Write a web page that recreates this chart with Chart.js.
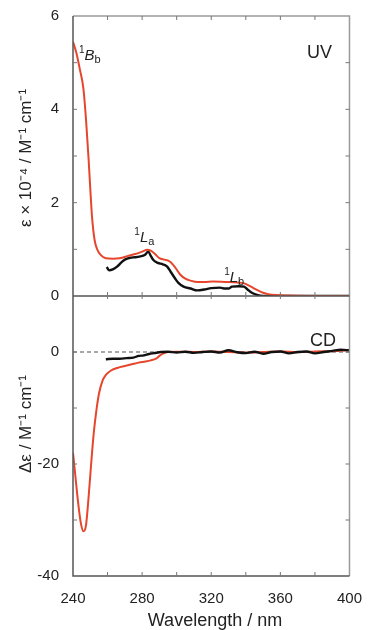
<!DOCTYPE html>
<html>
<head>
<meta charset="utf-8">
<script src="https://cdn.jsdelivr.net/npm/chart.js@4.4.1/dist/chart.umd.min.js"></script>
<style>
    html, body { margin: 0; padding: 0; background: #ffffff; }
    #contenedor { position: relative; width: 368px; height: 630px; }
</style>
</head>
<body>
<div id="contenedor"><canvas id="graficoEspectros" width="368" height="630"></canvas></div>
<script>
// Espectro UV (curva roja) - longitud de onda (nm) / valor (x 10^4)
const uvRojoNm = [240, 242, 244, 246, 247.5, 249, 250, 251, 252.5, 254, 256, 259, 263, 267, 272, 276, 280, 283, 285, 287.5, 290, 293, 296, 299, 302, 305, 308, 312, 316, 321, 328, 335, 339, 341, 344, 347, 350, 353, 358, 365, 380, 400];
const uvRojo = [5.45, 5.2, 4.85, 4.45, 3.8, 2.95, 2.3, 1.7, 1.2, 1.0, 0.88, 0.81, 0.8, 0.81, 0.86, 0.9, 0.95, 0.99, 0.97, 0.9, 0.81, 0.78, 0.74, 0.62, 0.46, 0.37, 0.33, 0.3, 0.3, 0.31, 0.3, 0.29, 0.27, 0.24, 0.18, 0.12, 0.07, 0.04, 0.02, 0.01, 0.0, 0.0];

// Espectro UV (curva negra)
const uvNegroNm = [259.5, 261, 263, 265.5, 268, 270, 273, 276, 279, 281.5, 283.6, 285, 286.5, 289, 292, 294.5, 296.5, 299, 301, 304, 308, 312, 316, 320, 325, 328, 330, 332, 336, 339, 341, 343, 346, 350, 360, 380, 400];
const uvNegro = [0.62, 0.55, 0.57, 0.63, 0.72, 0.78, 0.82, 0.83, 0.85, 0.88, 0.95, 0.86, 0.77, 0.71, 0.68, 0.63, 0.52, 0.38, 0.28, 0.2, 0.16, 0.12, 0.14, 0.17, 0.18, 0.16, 0.16, 0.2, 0.21, 0.2, 0.14, 0.08, 0.03, 0.0, 0.0, 0.0, 0.0];

// Espectro CD (curva roja)
const cdRojoNm = [240, 241, 243, 244.5, 246, 247.5, 249, 250.5, 252, 253.5, 255, 257, 259, 262, 266, 270, 274, 278, 282, 285, 288, 290, 292, 295, 300, 310, 320, 330, 340, 350, 360, 370, 380, 390, 400];
const cdRojo = [-18, -21, -27, -30.5, -32, -31, -26, -20, -14.5, -10.5, -7.5, -5.2, -4.1, -3.3, -2.8, -2.5, -2.2, -1.9, -1.7, -1.5, -1.2, -0.7, -0.3, 0, 0.05, 0, 0.1, 0, -0.1, 0, 0.1, -0.05, 0.1, 0.15, 0.3];

// Espectro CD (curva negra)
const cdNegroNm = [259, 263, 267, 271, 275, 278, 281, 284, 287, 291, 295, 300, 305, 310, 315, 320, 325, 330, 335, 340, 345, 350, 355, 360, 365, 370, 375, 380, 385, 390, 395, 400];
const cdNegro = [-1.3, -1.2, -1.2, -1.1, -1.0, -0.7, -0.6, -0.35, -0.2, 0, 0.05, -0.1, 0.05, -0.15, 0, 0.1, -0.1, 0.3, -0.05, -0.2, 0.05, -0.3, 0, 0.1, -0.25, 0, 0.1, -0.25, 0, 0.2, 0.4, 0.3];

const ROJO = '#e6462c';
const NEGRO = '#111111';
const TEXTO = '#222222';
const FUENTE = '"Liberation Sans", Arial, sans-serif';

const puntos = (xs, ys) => xs.map((x, i) => ({ x: x, y: ys[i] }));

function etiquetaBanda(ctx, x, y, principal, sub) {
    ctx.font = '10px ' + FUENTE;
    ctx.fillText('1', x, y - 7);
    const w1 = ctx.measureText('1').width;
    ctx.font = 'italic 15px ' + FUENTE;
    ctx.fillText(principal, x + w1, y);
    const w2 = ctx.measureText(principal).width;
    ctx.font = '11px ' + FUENTE;
    ctx.fillText(sub, x + w1 + w2, y + 3);
}

function tituloVertical(ctx, texto, x, y) {
    ctx.save();
    ctx.translate(x, y);
    ctx.rotate(-Math.PI / 2);
    ctx.textAlign = 'center';
    ctx.textBaseline = 'middle';
    ctx.fillText(texto, 0, 0);
    ctx.restore();
}

const marcoPlugin = {
    id: 'marco',
    beforeDatasetsDraw(chart) {
        const { ctx, chartArea: a, scales } = chart;
        const y0 = scales.yCD.getPixelForValue(0);
        ctx.save();
        ctx.strokeStyle = '#8c8c8c';
        ctx.lineWidth = 1.4;
        ctx.setLineDash([4, 3]);
        ctx.beginPath();
        ctx.moveTo(a.left, y0);
        ctx.lineTo(a.right, y0);
        ctx.stroke();
        ctx.restore();
    },
    afterDatasetsDraw(chart) {
        const { ctx, chartArea: a, scales } = chart;
        const sx = scales.x;
        const uv = scales.yUV;
        const cd = scales.yCD;
        const arriba = Math.min(uv.top, cd.top);
        const medio = Math.max(uv.top, cd.top);
        const abajo = Math.max(uv.bottom, cd.bottom);

        ctx.save();
        // bordes claros (arriba y derecha)
        ctx.lineWidth = 1.5;
        ctx.strokeStyle = '#9a9a9a';
        ctx.beginPath();
        ctx.moveTo(a.left, arriba);
        ctx.lineTo(a.right, arriba);
        ctx.lineTo(a.right, abajo);
        ctx.stroke();
        // bordes oscuros (izquierda, medio y abajo)
        ctx.strokeStyle = '#555555';
        ctx.beginPath();
        ctx.moveTo(a.left, arriba);
        ctx.lineTo(a.left, abajo);
        ctx.lineTo(a.right, abajo);
        ctx.moveTo(a.left, medio);
        ctx.lineTo(a.right, medio);
        ctx.stroke();

        // marcas del eje x
        ctx.lineWidth = 1;
        ctx.strokeStyle = '#777777';
        ctx.beginPath();
        sx.ticks.forEach(t => {
            const px = sx.getPixelForValue(t.value);
            if (px <= a.left + 1 || px >= a.right - 1) return;
            ctx.moveTo(px, arriba); ctx.lineTo(px, arriba + 4);
            ctx.moveTo(px, medio - 4); ctx.lineTo(px, medio + 3);
            ctx.moveTo(px, abajo); ctx.lineTo(px, abajo - 4);
        });
        // marcas de los ejes y
        [uv, cd].forEach(s => {
            s.ticks.forEach(t => {
                const py = s.getPixelForValue(t.value);
                if (py <= s.top + 1 || py >= s.bottom - 1) return;
                ctx.moveTo(a.left, py); ctx.lineTo(a.left + 4, py);
                ctx.moveTo(a.right, py); ctx.lineTo(a.right - 4, py);
            });
        });
        ctx.stroke();
        ctx.restore();
    },
    afterDraw(chart) {
        const { ctx, scales } = chart;
        const sx = scales.x;
        const uv = scales.yUV;

        ctx.save();
        ctx.fillStyle = TEXTO;
        ctx.textBaseline = 'alphabetic';
        ctx.textAlign = 'left';

        // bandas
        etiquetaBanda(ctx, sx.getPixelForValue(243.5), uv.getPixelForValue(5.05), 'B', 'b');
        etiquetaBanda(ctx, sx.getPixelForValue(275.5), uv.getPixelForValue(1.15), 'L', 'a');
        etiquetaBanda(ctx, sx.getPixelForValue(327.5), uv.getPixelForValue(0.3), 'L', 'b');

        // UV / CD
        ctx.font = '18px ' + FUENTE;
        ctx.fillText('UV', 307, 58);
        ctx.fillText('CD', 310, 346);

        // títulos de ejes
        ctx.font = '17px ' + FUENTE;
        tituloVertical(ctx, 'ε × 10⁻⁴ / M⁻¹ cm⁻¹', 26, (uv.top + uv.bottom) / 2 + 2);
        tituloVertical(ctx, 'Δε / M⁻¹ cm⁻¹', 26, 424);
        ctx.font = '18px ' + FUENTE;
        ctx.textAlign = 'center';
        ctx.fillText('Wavelength / nm', 215, 626);
        ctx.restore();
    }
};

const ctx = document.getElementById('graficoEspectros').getContext('2d');

const grafico = new Chart(ctx, {
    type: 'line',
    data: {
        datasets: [
            {
                label: 'UV rojo',
                data: puntos(uvRojoNm, uvRojo),
                yAxisID: 'yUV',
                borderColor: ROJO,
                borderWidth: 2,
                pointRadius: 0,
                cubicInterpolationMode: 'monotone'
            },
            {
                label: 'UV negro',
                data: puntos(uvNegroNm, uvNegro),
                yAxisID: 'yUV',
                borderColor: NEGRO,
                borderWidth: 2.4,
                pointRadius: 0,
                cubicInterpolationMode: 'monotone'
            },
            {
                label: 'CD negro',
                data: puntos(cdNegroNm, cdNegro),
                yAxisID: 'yCD',
                borderColor: NEGRO,
                borderWidth: 2.4,
                pointRadius: 0,
                cubicInterpolationMode: 'monotone'
            },
            {
                label: 'CD rojo',
                data: puntos(cdRojoNm, cdRojo),
                yAxisID: 'yCD',
                borderColor: ROJO,
                borderWidth: 2,
                pointRadius: 0,
                cubicInterpolationMode: 'monotone'
            }
        ]
    },
    options: {
        responsive: false,
        animation: false,
        layout: {
            padding: { left: 0, right: 13, top: 16, bottom: 0 }
        },
        plugins: {
            legend: { display: false },
            tooltip: { enabled: false }
        },
        scales: {
            x: {
                type: 'linear',
                position: 'bottom',
                min: 240,
                max: 400,
                grid: { display: false },
                border: { display: false },
                ticks: {
                    stepSize: 20,
                    autoSkip: false,
                    maxRotation: 0,
                    padding: 6,
                    color: TEXTO,
                    font: { family: FUENTE, size: 15 },
                    callback: v => (v % 40 === 0 ? v : '')
                },
                afterFit: s => { s.height = 54; }
            },
            // el primero en la lista queda abajo
            yCD: {
                type: 'linear',
                position: 'left',
                stack: 'paneles',
                stackWeight: 1,
                min: -40,
                max: 10,
                grid: { display: false },
                border: { display: false },
                ticks: {
                    stepSize: 10,
                    padding: 6,
                    color: TEXTO,
                    font: { family: FUENTE, size: 15 },
                    callback: v => (v % 20 === 0 ? v : '')
                },
                afterFit: s => { s.width = 73; }
            },
            yUV: {
                type: 'linear',
                position: 'left',
                stack: 'paneles',
                stackWeight: 1,
                min: 0,
                max: 6,
                grid: { display: false },
                border: { display: false },
                ticks: {
                    stepSize: 1,
                    padding: 6,
                    color: TEXTO,
                    font: { family: FUENTE, size: 15 },
                    callback: v => (v % 2 === 0 ? v : '')
                },
                afterFit: s => { s.width = 73; }
            }
        }
    },
    plugins: [marcoPlugin]
});
</script>
</body>
</html>
